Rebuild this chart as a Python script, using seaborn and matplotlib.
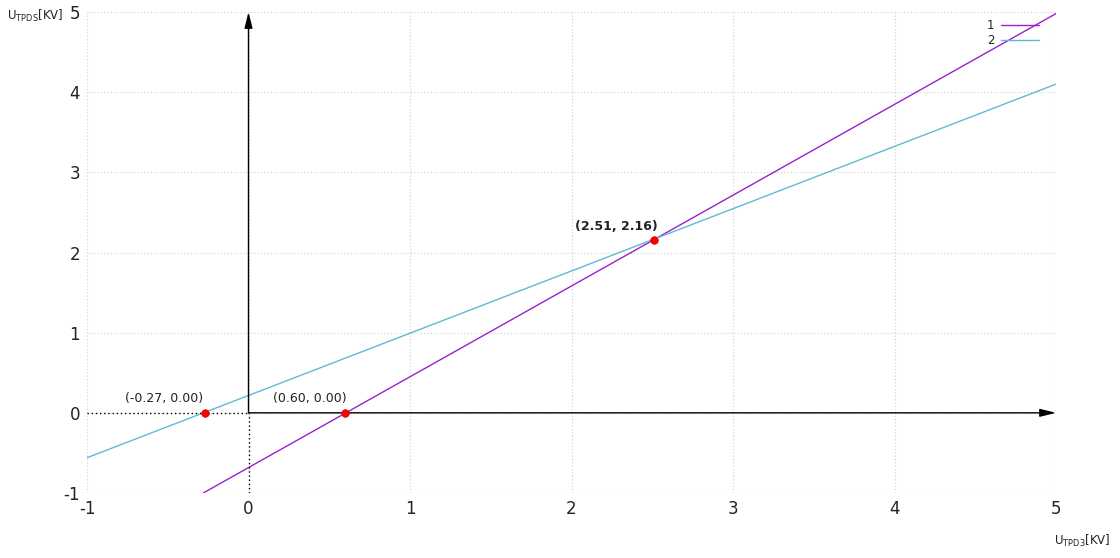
import matplotlib
matplotlib.use("Agg")
import matplotlib.pyplot as plt
import pandas as pd
import seaborn as sns

# values
line1_x = [-0.28, 5.0]
line1_y = [-1.0, 4.98]
line2_x = [-1.0, 5.0]
line2_y = [-0.56, 4.10]
points_x = [-0.27, 0.60, 2.51]
points_y = [0.0, 0.0, 2.16]
point_labels = ["(-0.27, 0.00)", "(0.60, 0.00)", "(2.51, 2.16)"]
ticks = [-1, 0, 1, 2, 3, 4, 5]

PURPLE = "#9a1fd0"
CYAN = "#62b8d4"

sns.set_theme(style="white")
plt.rcParams["font.family"] = ["DejaVu Sans"]
plt.rcParams["axes.unicode_minus"] = False

lines = pd.concat([
    pd.DataFrame({"x": line1_x, "y": line1_y, "series": "1"}),
    pd.DataFrame({"x": line2_x, "y": line2_y, "series": "2"}),
])
pts = pd.DataFrame({"x": points_x, "y": points_y, "label": point_labels})

fig = plt.figure(figsize=(11.2, 5.58), dpi=100)
ax = fig.add_axes([87 / 1120, 65 / 558, 969 / 1120, 481 / 558])

ax.grid(True, color="#cfcfcf", linestyle=(0, (1, 2)), linewidth=0.8)
ax.set_axisbelow(True)

sns.lineplot(data=lines, x="x", y="y", hue="series",
             palette={"1": PURPLE, "2": CYAN}, linewidth=1.0, ax=ax)

# axis arrows and dotted guides
ax.annotate("", xy=(5.0, 0), xytext=(0, 0), annotation_clip=False,
            arrowprops=dict(arrowstyle="-|>,head_length=0.8,head_width=0.2",
                            color="black", lw=1.0, shrinkA=0, shrinkB=0))
ax.annotate("", xy=(0, 5.0), xytext=(0, 0), annotation_clip=False,
            arrowprops=dict(arrowstyle="-|>,head_length=0.8,head_width=0.2",
                            color="black", lw=1.0, shrinkA=0, shrinkB=0))
ax.plot([-1, 0], [0, 0], color="black", linestyle=(0, (1, 2)), linewidth=1.0)
ax.plot([0, 0], [-1, 0], color="black", linestyle=(0, (1, 2)), linewidth=1.0)

sns.scatterplot(data=pts, x="x", y="y", color="red", s=30,
                edgecolor="#cc0000", linewidth=0.5, zorder=5, ax=ax, legend=False)

offsets = [(-0.25, 0.18), (-0.22, 0.18), (-0.23, 0.17)]
weights = ["normal", "normal", "semibold"]
for (x, y, lab), (dx, dy), w in zip(zip(points_x, points_y, point_labels), offsets, weights):
    ax.text(x + dx, y + dy, lab, ha="center", va="center", fontsize=9,
            color="#222222", fontweight=w)

ax.set_xlim(-1, 5)
ax.set_ylim(-1, 5)
ax.set_xticks(ticks)
ax.set_yticks(ticks)
ax.tick_params(axis="both", length=0, labelsize=12, colors="#222222")
ax.tick_params(axis="x", pad=5)
ax.tick_params(axis="y", pad=5)
for s in ax.spines.values():
    s.set_visible(False)
ax.set_xlabel("")
ax.set_ylabel("")

leg = ax.legend(loc="upper right", bbox_to_anchor=(0.99, 1.0), frameon=False,
                markerfirst=False, fontsize=8.5, handlelength=3.2,
                handletextpad=0.6, labelspacing=0.2, borderaxespad=0.2)
for t in leg.get_texts():
    t.set_color("#222222")

fig.text(7 / 1120, 1 - 16 / 558, r"U$_{\mathregular{TPDS}}$[KV]", fontsize=8.5,
         va="center", ha="left", color="#222222")
fig.text(1054 / 1120, 1 - 541 / 558, r"U$_{\mathregular{TPD3}}$[KV]", fontsize=8.5,
         va="center", ha="left", color="#222222")

fig.savefig("out.png", dpi=100)
